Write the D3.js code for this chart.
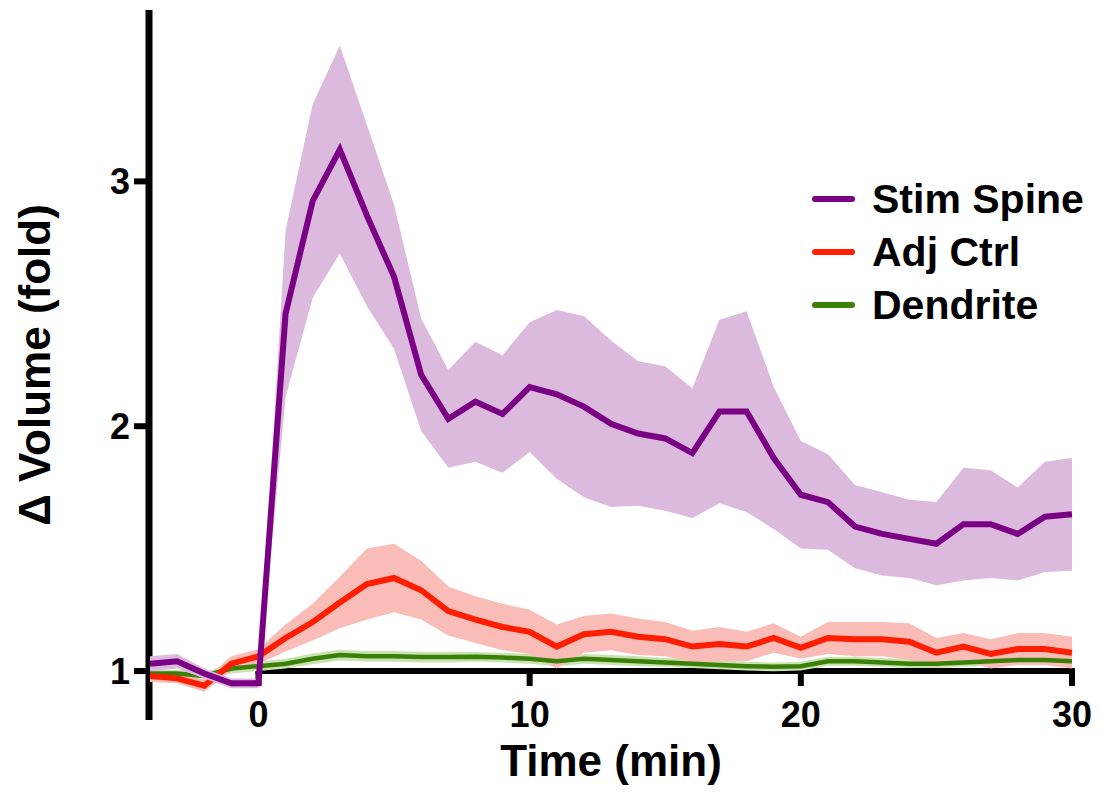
<!DOCTYPE html>
<html>
<head>
<meta charset="utf-8">
<script src="https://cdn.jsdelivr.net/npm/d3@7"></script>
<style>
  html, body { margin: 0; padding: 0; background: #fff; }
  svg text { font-family: "Liberation Sans", Arial, sans-serif; font-weight: bold; fill: #000; }
</style>
</head>
<body>
<svg id="chart" width="1101" height="800"></svg>
<script>
// time points (min), -4 .. 30
const times = d3.range(-4, 31);

// Stim Spine: mean and SEM
const stimMean = [1.03, 1.04, 0.99, 0.95, 0.95,
  2.46, 2.92, 3.13, 2.86, 2.61, 2.21, 2.03, 2.10, 2.05, 2.16,
  2.13, 2.08, 2.01, 1.97, 1.95, 1.89, 2.06, 2.06, 1.87, 1.72,
  1.69, 1.59, 1.56, 1.54, 1.52, 1.60, 1.60, 1.56, 1.63, 1.64];
const stimSem = [0.03, 0.03, 0.02, 0.02, 0.02,
  0.34, 0.395, 0.425, 0.37, 0.295, 0.23, 0.20, 0.245, 0.24, 0.265,
  0.345, 0.37, 0.34, 0.295, 0.295, 0.265, 0.375, 0.41, 0.29, 0.22,
  0.195, 0.17, 0.17, 0.16, 0.17, 0.23, 0.22, 0.19, 0.225, 0.23];

// Adj Ctrl
const adjMean = [0.98, 0.97, 0.94, 1.03, 1.06,
  1.135, 1.20, 1.28, 1.355, 1.38, 1.33, 1.245, 1.21, 1.18, 1.16,
  1.10, 1.15, 1.16, 1.14, 1.13, 1.10, 1.11, 1.10, 1.135, 1.095,
  1.135, 1.13, 1.13, 1.12, 1.075, 1.10, 1.07, 1.09, 1.09, 1.075];
const adjSem = [0.025, 0.02, 0.025, 0.03, 0.03,
  0.055, 0.075, 0.105, 0.145, 0.14, 0.12, 0.10, 0.095, 0.095, 0.09,
  0.09, 0.075, 0.075, 0.075, 0.07, 0.065, 0.07, 0.06, 0.06, 0.045,
  0.065, 0.07, 0.07, 0.075, 0.06, 0.055, 0.06, 0.065, 0.065, 0.065];

// Dendrite
const dendMean = [0.99, 0.99, 0.98, 1.01, 1.02,
  1.03, 1.05, 1.065, 1.06, 1.06, 1.057, 1.057, 1.058, 1.055, 1.05,
  1.04, 1.05, 1.045, 1.04, 1.035, 1.03, 1.025, 1.02, 1.017, 1.02,
  1.04, 1.04, 1.035, 1.03, 1.03, 1.035, 1.04, 1.045, 1.045, 1.04];
const dendSem = [0.015, 0.015, 0.015, 0.02, 0.02,
  0.02, 0.022, 0.022, 0.022, 0.022, 0.022, 0.022, 0.02, 0.02, 0.02,
  0.02, 0.02, 0.02, 0.02, 0.018, 0.018, 0.018, 0.018, 0.018, 0.018,
  0.018, 0.018, 0.018, 0.018, 0.018, 0.018, 0.018, 0.018, 0.018, 0.018];

const xTicks = [0, 10, 20, 30];
const yTicks = [1, 2, 3];

const SERIES = {
  dend: { name: 'Dendrite',   mean: dendMean, sem: dendSem, line: '#3a7f08', band: '#c9e2b2', lw: 4.5 },
  adj:  { name: 'Adj Ctrl',   mean: adjMean,  sem: adjSem,  line: '#ff1e00', band: '#fabcb7', lw: 6 },
  stim: { name: 'Stim Spine', mean: stimMean, sem: stimSem, line: '#7a0084', band: '#dbbade', lw: 6 },
};
// layering: green band, red band, green line, red line, purple band, purple line
const ORDER = [['dend', 'band'], ['adj', 'band'], ['dend', 'line'], ['adj', 'line'], ['stim', 'band'], ['stim', 'line']];
const LEGEND = ['stim', 'adj', 'dend'];

const svg = d3.select('#chart');
const x = d3.scaleLinear().domain([-4, 30]).range([150, 1072]);
const y = d3.scaleLinear().domain([0.8, 3.7]).range([720, 10]);

// axes (data is drawn over them)
const gAx = svg.append('g');
gAx.append('line').attr('x1', 149).attr('x2', 149).attr('y1', y(3.7)).attr('y2', y(0.8))
  .attr('stroke', '#000').attr('stroke-width', 7);
gAx.append('line').attr('x1', x(0) - 3).attr('x2', x(30) + 3).attr('y1', y(1)).attr('y2', y(1))
  .attr('stroke', '#000').attr('stroke-width', 6);

yTicks.forEach(v => {
  gAx.append('line').attr('x1', 134).attr('x2', 149).attr('y1', y(v)).attr('y2', y(v))
    .attr('stroke', '#000').attr('stroke-width', 6);
  gAx.append('text').attr('x', 130).attr('y', y(v)).attr('dy', '0.35em')
    .attr('text-anchor', 'end').attr('font-size', 36).text(v);
});
xTicks.forEach(v => {
  gAx.append('line').attr('x1', x(v)).attr('x2', x(v)).attr('y1', y(1)).attr('y2', y(1) + 15)
    .attr('stroke', '#000').attr('stroke-width', 6);
  gAx.append('text').attr('x', x(v)).attr('y', 727)
    .attr('text-anchor', 'middle').attr('font-size', 36).text(v);
});

svg.append('text').attr('x', 611).attr('y', 776).attr('text-anchor', 'middle')
  .attr('font-size', 44).text('Time (min)');
svg.append('text').attr('transform', 'translate(50,365) rotate(-90)').attr('text-anchor', 'middle')
  .attr('font-size', 44).text('Δ Volume (fold)');

// bands + lines
const area = d3.area().x((d, i) => x(times[i])).y0(d => y(d[0] - d[1])).y1(d => y(d[0] + d[1]));
const line = d3.line().x((d, i) => x(times[i])).y(d => y(d));

ORDER.forEach(([key, kind]) => {
  const s = SERIES[key];
  if (kind === 'band') {
    const pts = s.mean.map((m, i) => [m, s.sem[i]]);
    svg.append('path').attr('d', area(pts)).attr('fill', s.band);
  } else {
    svg.append('path').attr('d', line(s.mean)).attr('fill', 'none')
      .attr('stroke', s.line).attr('stroke-width', s.lw).attr('stroke-linejoin', 'miter');
  }
});

// legend
const lg = svg.append('g');
LEGEND.forEach((key, i) => {
  const s = SERIES[key];
  const ly = 199 + i * 53;
  lg.append('line').attr('x1', 815).attr('x2', 852).attr('y1', ly).attr('y2', ly)
    .attr('stroke', s.line).attr('stroke-width', 6).attr('stroke-linecap', 'round');
  lg.append('text').attr('x', 872).attr('y', ly).attr('dy', '0.35em')
    .attr('font-size', 41).text(s.name);
});
</script>
</body>
</html>
